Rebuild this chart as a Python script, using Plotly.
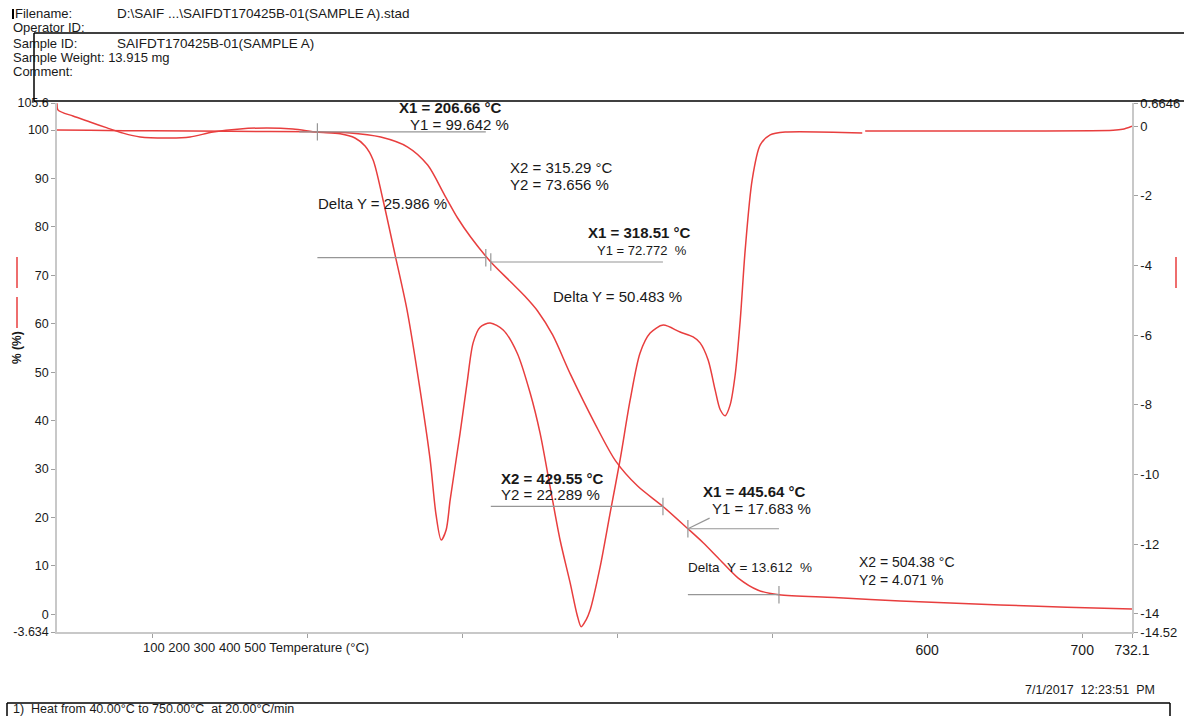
import plotly.graph_objects as go

# ---- TGA weight curve (% of initial mass) vs temperature (°C)
temp_tga = [38.7, 60, 100, 150, 206.66, 226.2, 247.5, 264.9, 277.8, 288.7, 297.1,
            305.5, 318.51, 331.4, 340.4, 348.7, 358.4, 370.0, 385.5, 399.0, 413.2,
            429.55, 445.64, 455.5, 465.2, 478.1, 491.0, 504.38, 540, 582.6, 647.1, 690, 732.1]
tga = [100.0, 99.95, 99.85, 99.75, 99.642, 99.47, 98.57, 96.51, 92.79, 86.6, 81.85,
       77.93, 72.772, 68.65, 65.75, 62.66, 57.7, 49.5, 39.5, 31.7, 26.5,
       22.289, 17.683, 14.8, 11.65, 7.5, 5.0, 4.071, 3.5, 2.76, 1.94, 1.5, 1.1]

# ---- DTG curve (%/min) vs temperature (°C); None marks the break in the record
temp_dtg = [38.7, 39.4, 49.0, 60.0, 71.0, 81.3, 92.3, 111.6, 124.5, 139.4, 156.8,
            174.2, 190.9, 206.4, 221.3, 230.9, 237.4, 242.6, 249.0, 256.8, 264.5,
            272.9, 279.4, 283.2, 286.5, 289.7, 292.3, 298.7, 303.2, 307.1, 311.6,
            318.1, 326.5, 335.5, 343.9, 350.3, 356.8, 363.2, 369.7, 374.2, 376.8,
            380.0, 382.6, 389.0, 395.5, 401.9, 408.4, 414.8, 421.3, 429.7, 440.6,
            449.0, 453.5, 458.7, 463.2, 466.5, 469.7, 472.9, 476.1, 479.4, 482.6,
            487.1, 492.3, 498.7, 508.4, 558.1, 559.0, 560.0, 647.1, 720.0, 726.0, 732.1]
dtg = [0.66, 0.46, 0.29, 0.12, -0.05, -0.20, -0.31, -0.34, -0.31, -0.17, -0.08,
       -0.05, -0.08, -0.17, -0.22, -0.34, -0.57, -0.97, -2.12, -3.70, -5.28,
       -7.57, -9.58, -11.16, -11.88, -11.59, -10.73, -8.81, -7.37, -6.22, -5.77,
       -5.65, -5.85, -6.51, -7.66, -8.81, -10.36, -11.88, -13.11, -14.03, -14.37,
       -14.17, -13.89, -12.66, -11.10, -9.58, -7.86, -6.51, -5.94, -5.71, -5.91,
       -6.05, -6.22, -6.71, -7.57, -8.14, -8.31, -8.00, -7.15, -5.57, -3.55,
       -1.54, -0.54, -0.25, -0.17, -0.20, None, -0.14, -0.14, -0.12, -0.09, 0.0]

# ---- axis ticks
x_tickvals = [100, 200, 300, 400, 500, 600, 700, 732.1]
x_ticktext = ["", "", "", "", "", "600", "700", "732.1"]
yl_tickvals = [-3.634, 0, 10, 20, 30, 40, 50, 60, 70, 80, 90, 100, 105.6]
yl_ticktext = ["-3.634", "0", "10", "20", "30", "40", "50", "60", "70", "80", "90", "100", "105.6"]
yr_tickvals = [-14.52, -14, -12, -10, -8, -6, -4, -2, 0, 0.6646]
yr_ticktext = ["-14.52", "-14", "-12", "-10", "-8", "-6", "-4", "-2", "0", "0.6646"]

# ---- step measurements: (X1, Y1) -> (X2, Y2), delta Y
steps_x1 = [206.66, 318.51, 445.64]
steps_y1 = [99.642, 72.772, 17.683]
steps_x2 = [315.29, 429.55, 504.38]
steps_y2 = [73.656, 22.289, 4.071]
steps_dy = [25.986, 50.483, 13.612]

RED = "rgb(232,62,62)"
GREY = "rgb(150,150,150)"
INK = "rgb(25,25,25)"
FONT = "Liberation Sans, Arial, sans-serif"

PL, PR, PT, PB = 57, 1132, 103, 632


def px(x):
    return (x - PL) / (PR - PL)


def py(y):
    return (PB - y) / (PB - PT)


fig = go.Figure()
fig.add_trace(go.Scatter(x=temp_tga, y=tga, mode="lines",
                         line=dict(color=RED, width=1.5, shape="spline", smoothing=0.8),
                         yaxis="y", showlegend=False, hoverinfo="skip"))
fig.add_trace(go.Scatter(x=temp_dtg, y=dtg, mode="lines",
                         line=dict(color=RED, width=1.5, shape="spline", smoothing=0.8),
                         yaxis="y2", showlegend=False, hoverinfo="skip", connectgaps=False))

shapes = []
annotations = []


def hline(x0, x1, y):
    shapes.append(dict(type="line", xref="x", yref="y", x0=x0, x1=x1, y0=y, y1=y,
                       line=dict(color=GREY, width=1.2)))


def vtick(x, y, h=1.8):
    shapes.append(dict(type="line", xref="x", yref="y", x0=x, x1=x, y0=y - h, y1=y + h,
                       line=dict(color=GREY, width=1.2)))


# step 1
hline(195.0, steps_x2[0], steps_y1[0])
vtick(steps_x1[0], steps_y1[0])
hline(steps_x1[0], steps_x2[0], steps_y2[0])
vtick(steps_x2[0], steps_y2[0])
# step 2
hline(steps_x1[1], steps_x2[1], steps_y1[1])
vtick(steps_x1[1], steps_y1[1])
hline(steps_x1[1], steps_x2[1], steps_y2[1])
vtick(steps_x2[1], steps_y2[1])
# step 3
hline(steps_x1[2], steps_x2[2], steps_y1[2])
vtick(steps_x1[2], steps_y1[2])
shapes.append(dict(type="line", xref="x", yref="y", x0=steps_x1[2], x1=steps_x1[2] + 14,
                   y0=steps_y1[2], y1=steps_y1[2] + 2.2, line=dict(color=GREY, width=1.2)))
hline(steps_x1[2], steps_x2[2], steps_y2[2])
vtick(steps_x2[2], steps_y2[2])


def text(x, y, s, size=13, bold=False, anchor="left", angle=0):
    annotations.append(dict(xref="paper", yref="paper", x=px(x), y=py(y), text=(f"<b>{s}</b>" if bold else s),
                            showarrow=False, xanchor=anchor, yanchor="middle", textangle=angle,
                            borderpad=0, font=dict(family=FONT, size=size, color=INK)))


NB = "\u00a0"
M = 15
text(398, 108, f"X1 = {steps_x1[0]:.2f} °C", size=M, bold=True)
text(409, 124, f"Y1 = {steps_y1[0]:.3f} %", size=M)
text(509, 168, f"X2 = {steps_x2[0]:.2f} °C", size=M)
text(509, 184, f"Y2 = {steps_y2[0]:.3f} %", size=M)
text(317, 203, f"Delta Y = {steps_dy[0]:.3f} %", size=M)
text(587, 232, f"X1 = {steps_x1[1]:.2f} °C", size=M, bold=True)
text(596, 250, f"Y1 = {steps_y1[1]:.3f}{NB}{NB}%", size=13)
text(552, 296, f"Delta Y = {steps_dy[1]:.3f} %", size=M)
text(500, 478, f"X2 = {steps_x2[1]:.2f} °C", size=M, bold=True)
text(500, 494, f"Y2 = {steps_y2[1]:.3f} %", size=M)
text(702, 491, f"X1 = {steps_x1[2]:.2f} °C", size=M, bold=True)
text(711, 508, f"Y1 = {steps_y1[2]:.3f} %", size=M)
text(687, 567, f"Delta{NB}{NB}Y = {steps_dy[2]:.3f}{NB}{NB}%", size=13.5)
text(858, 562, f"X2 = {steps_x2[2]:.2f} °C", size=14)
text(858, 580, f"Y2 = {steps_y2[2]:.3f} %", size=14)

# bottom axis caption and crowded low-temperature labels
text(142, 647, "100 200 300 400 500 Temperature (°C)", size=13)

# header block
H = 13
text(14, 14, "Filename:", size=H)
text(116, 14, "D:\\SAIF ...\\SAIFDT170425B-01(SAMPLE A).stad", size=13.5)
text(12, 28, "Operator ID:", size=H)
text(12, 43, "Sample ID:", size=H)
text(116, 43, "SAIFDT170425B-01(SAMPLE A)", size=13.5)
text(12, 57, "Sample Weight: 13.915 mg", size=H)
text(12, 71, "Comment:", size=H)

# footer
text(1024, 690, f"7/1/2017{NB}{NB}12:23:51{NB}{NB}PM", size=12.5)
text(12, 709, f"1){NB}{NB}Heat from 40.00°C to 750.00°C{NB}{NB}at 20.00°C/min", size=12.5)

# left axis caption
text(17, 348, "% (%)", size=12, bold=True, anchor="center", angle=-90)


def pline(x0, y0, x1, y1, color="black", width=1.5):
    shapes.append(dict(type="line", xref="paper", yref="paper", x0=px(x0), y0=py(y0), x1=px(x1), y1=py(y1),
                       line=dict(color=color, width=width)))


# header frame
pline(34, 33, 1184, 33)
pline(34, 33, 34, 101)
pline(34, 101, 1184, 101)
pline(13, 9, 13, 19, width=2)
# footer frame
pline(7, 703, 1170, 703)
pline(7, 703, 7, 716)
pline(1170, 703, 1170, 716)
# curve keys
pline(17, 257, 17, 288, color=RED, width=1.5)
pline(17, 297, 17, 328, color=RED, width=1.5)
pline(1176, 257, 1176, 288, color=RED, width=1.5)

axis_common = dict(showgrid=False, zeroline=False, showline=True, linecolor="rgb(200,200,200)", linewidth=1.5,
                   ticks="outside", ticklen=4, tickcolor="rgb(160,160,160)", automargin=False)

fig.update_layout(
    width=1184, height=716,
    margin=dict(l=PL, r=1184 - PR, t=PT, b=716 - PB),
    paper_bgcolor="white", plot_bgcolor="white",
    xaxis=dict(range=[38.7, 732.1], tickvals=x_tickvals, ticktext=x_ticktext,
               tickfont=dict(family=FONT, size=14, color=INK), **axis_common),
    yaxis=dict(range=[-3.634, 105.6], tickvals=yl_tickvals, ticktext=yl_ticktext,
               tickfont=dict(family=FONT, size=12.5, color=INK), **axis_common),
    yaxis2=dict(range=[-14.52, 0.6646], tickvals=yr_tickvals, ticktext=yr_ticktext, overlaying="y",
                side="right", tickfont=dict(family=FONT, size=13, color=INK), **axis_common),
    shapes=shapes, annotations=annotations,
)

fig.write_html("out.html")
